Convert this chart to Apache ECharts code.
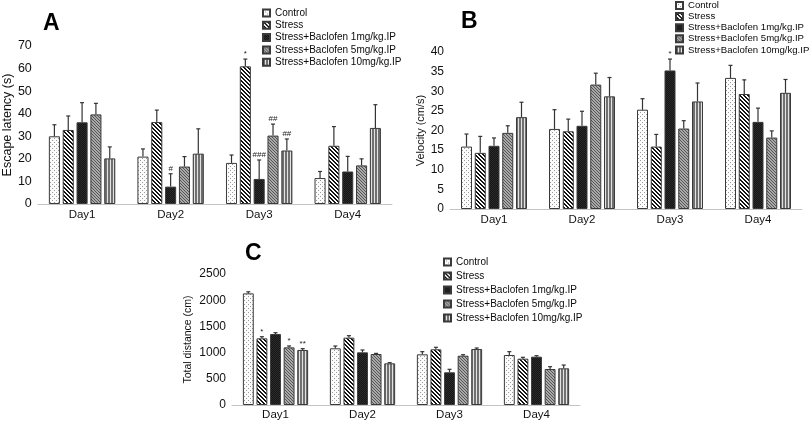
<!DOCTYPE html>
<html>
<head>
<meta charset="utf-8">
<script src="https://cdn.jsdelivr.net/npm/echarts@6/dist/echarts.min.js"></script>
<style>html,body{margin:0;padding:0;background:#fff;}#c{width:810px;height:424px;}</style>
</head>
<body>
<div id="c"></div>
<script>
// ---------- data ----------
const days = ['Day1', 'Day2', 'Day3', 'Day4'];
const groups = ['Control', 'Stress', 'Stress+Baclofen 1mg/kg.IP', 'Stress+Baclofen 5mg/kg.IP', 'Stress+Baclofen 10mg/kg.IP'];

// Panel A: Escape latency (s)  — rows follow groups, columns follow days
const latencyMean = [
  [30.0, 21.0, 18.2, 11.5],
  [32.8, 36.3, 61.0, 25.8],
  [36.2, 7.7, 11.1, 14.4],
  [39.7, 16.6, 30.3, 17.1],
  [20.2, 22.3, 23.7, 33.7]
];
const latencyErr = [
  [5.1, 3.4, 3.5, 2.9],
  [6.2, 5.3, 3.2, 8.5],
  [8.7, 5.7, 8.4, 6.7],
  [4.9, 4.4, 5.1, 2.9],
  [5.1, 11.0, 5.1, 10.3]
];
const latencyMark = [
  ['', '', '', ''],
  ['', '', '*', ''],
  ['', '#', '###', ''],
  ['', '', '##', ''],
  ['', '', '##', '']
];
const latencyTicks = [0, 70, 10];

// Panel B: Velocity (cm/s)
const velocityMean = [
  [15.9, 20.4, 25.3, 33.4],
  [14.3, 19.8, 15.9, 29.3],
  [16.1, 21.2, 35.3, 22.2],
  [19.4, 31.7, 20.5, 18.2],
  [23.4, 28.7, 27.4, 29.6]
];
const velocityErr = [
  [3.2, 4.9, 2.8, 3.2],
  [4.2, 3.1, 3.1, 3.6],
  [2.0, 3.7, 2.9, 3.5],
  [1.8, 2.9, 2.0, 1.7],
  [3.8, 4.8, 4.7, 3.4]
];
const velocityMark = [
  ['', '', '', ''],
  ['', '', '', ''],
  ['', '', '*', ''],
  ['', '', '', ''],
  ['', '', '', '']
];
const velocityTicks = [0, 40, 5];

// Panel C: Total distance (cm)
const distanceMean = [
  [2130, 1082, 967, 954],
  [1272, 1285, 1063, 884],
  [1355, 1005, 624, 922],
  [1100, 973, 941, 687],
  [1050, 795, 1069, 700]
];
const distanceErr = [
  [30, 44, 51, 64],
  [31, 38, 38, 26],
  [25, 45, 57, 19],
  [27, 12, 19, 44],
  [25, 13, 19, 63]
];
const distanceMark = [
  ['', '', '', ''],
  ['*', '', '', ''],
  ['', '', '', ''],
  ['*', '', '', ''],
  ['**', '', '', '']
];
const distanceTicks = [0, 2500, 500];

// ---------- styling ----------
const FONT = 'Liberation Sans, Arial, sans-serif';
const CAT_GAP = 0.25, BAR_GAP = 0.25;

function makePattern(w, h, fn) {
  const c = document.createElement('canvas');
  c.width = w; c.height = h;
  const ctx = c.getContext('2d');
  for (let y = 0; y < h; y++) for (let x = 0; x < w; x++) {
    ctx.fillStyle = fn(x, y); ctx.fillRect(x, y, 1, 1);
  }
  return { image: c, repeat: 'repeat' };
}
const fills = [
  makePattern(4, 4, (x, y) => ((x === 0 && y === 0) || (x === 2 && y === 2)) ? '#9a9a9a' : '#fbfbfb'),
  makePattern(4, 4, (x, y) => ((((x - y) % 4) + 4) % 4) < 2 ? '#141414' : '#ffffff'),
  makePattern(2, 2, (x, y) => ((x + y) % 2) ? '#141414' : '#2c2c2c'),
  makePattern(3, 3, (x, y) => ((((x - y) % 3) + 3) % 3) === 0 ? '#555555' : '#a9a9a9'),
  makePattern(3, 1, (x) => x === 2 ? '#e2e2e2' : '#707070')
];

const panels = [
  { mean: latencyMean, err: latencyErr, mark: latencyMark, ticks: latencyTicks, name: 'Escape latency (s)',
    grid: { left: 34, width: 358, top: 46, height: 158 }, nameGap: 20, nameSize: 12.5, tickSize: 12.5, dayY: 5 },
  { mean: velocityMean, err: velocityErr, mark: velocityMark, ticks: velocityTicks, name: 'Velocity (cm/s)',
    grid: { left: 450, width: 352, top: 52, height: 157 }, nameGap: 21, nameSize: 11, tickSize: 12, dayY: 5 },
  { mean: distanceMean, err: distanceErr, mark: distanceMark, ticks: distanceTicks, name: 'Total distance (cm)',
    grid: { left: 232, width: 348, top: 274, height: 131 }, nameGap: 38, nameSize: 10.5, tickSize: 12, dayY: 4 }
];

const option = {
  animation: false,
  backgroundColor: '#ffffff',
  textStyle: { fontFamily: FONT },
  title: [
    { text: 'A', left: 43, top: 12 },
    { text: 'B', left: 461, top: 10 },
    { text: 'C', left: 245, top: 242 }
  ].map(t => Object.assign(t, { padding: 0, textStyle: { fontFamily: FONT, fontSize: 23, fontWeight: 'bold', color: '#000' } })),
  legend: [
    { left: 262, top: 8, itemGap: 2.3, fs: 10 },
    { left: 675, top: 0.5, itemGap: 1.1, fs: 9.6 },
    { left: 443, top: 257, itemGap: 4, fs: 10 }
  ].map(l => {
    const fs = l.fs; delete l.fs;
    return Object.assign(l, {
      orient: 'vertical', padding: 0, data: groups, icon: 'rect', itemWidth: 7, itemHeight: 7,
      selectedMode: false,
      textStyle: { fontFamily: FONT, fontSize: fs, color: '#0a0a0a', lineHeight: 10 }
    });
  }),
  grid: panels.map(p => Object.assign({}, p.grid)),
  xAxis: panels.map((p, i) => ({
    type: 'category', gridIndex: i, data: days,
    axisLine: { show: true, lineStyle: { color: '#c4c4c4', width: 1 } },
    axisTick: { show: false },
    axisLabel: { fontFamily: FONT, fontSize: 11.5, color: '#111', margin: p.dayY }
  })),
  yAxis: panels.map((p, i) => ({
    type: 'value', gridIndex: i, min: p.ticks[0], max: p.ticks[1], interval: p.ticks[2],
    name: p.name, nameLocation: 'middle', nameRotate: 90, nameGap: p.nameGap,
    nameTextStyle: { fontFamily: FONT, fontSize: p.nameSize, color: '#111' },
    axisLine: { show: false }, axisTick: { show: false }, splitLine: { show: false },
    axisLabel: { fontFamily: FONT, fontSize: p.tickSize, color: '#111', margin: 6, formatter: v => String(v) }
  })),
  series: []
};

panels.forEach((p, pi) => {
  groups.forEach((g, gi) => {
    option.series.push({
      type: 'bar', name: g, xAxisIndex: pi, yAxisIndex: pi,
      data: p.mean[gi],
      barCategoryGap: (CAT_GAP * 100) + '%', barGap: (BAR_GAP * 100) + '%',
      itemStyle: { color: fills[gi], borderColor: '#3a3a3a', borderWidth: 1 },
      emphasis: { disabled: true }
    });
  });
  const errData = [];
  groups.forEach((g, gi) => {
    days.forEach((d, di) => {
      errData.push([di, p.mean[gi][di], p.mean[gi][di] + p.err[gi][di], gi]);
    });
  });
  option.series.push({
    type: 'custom', name: 'err' + pi, xAxisIndex: pi, yAxisIndex: pi, z: 10,
    data: errData, encode: { x: 0, y: [1, 2] }, silent: true,
    renderItem: function (params, api) {
      const di = api.value(0), v = api.value(1), top = api.value(2), gi = api.value(3);
      const n = groups.length;
      const W = api.size([1, 0])[0];
      const usable = W * (1 - CAT_GAP);
      const bw = usable / (n + (n - 1) * BAR_GAP);
      const base = api.coord([di, v]);
      const x = base[0] - usable / 2 + gi * bw * (1 + BAR_GAP) + bw / 2;
      const y0 = base[1];
      const y1 = api.coord([di, top])[1];
      const mark = p.mark[gi][di];
      const children = [
        { type: 'line', shape: { x1: x, y1: y0, x2: x, y2: y1 }, style: { stroke: '#333', lineWidth: 1.2 } },
        { type: 'line', shape: { x1: x - 2, y1: y1, x2: x + 2, y2: y1 }, style: { stroke: '#333', lineWidth: 1.2 } }
      ];
      if (mark) {
        children.push({ type: 'text', style: { text: mark, x: x, y: y1 - 1, align: 'center', verticalAlign: 'bottom',
          fontSize: 8, fontFamily: FONT, fill: '#222' } });
      }
      return { type: 'group', children: children };
    }
  });
});

const chart = echarts.init(document.getElementById('c'), null, { renderer: 'canvas' });
chart.setOption(option);
</script>
</body>
</html>
